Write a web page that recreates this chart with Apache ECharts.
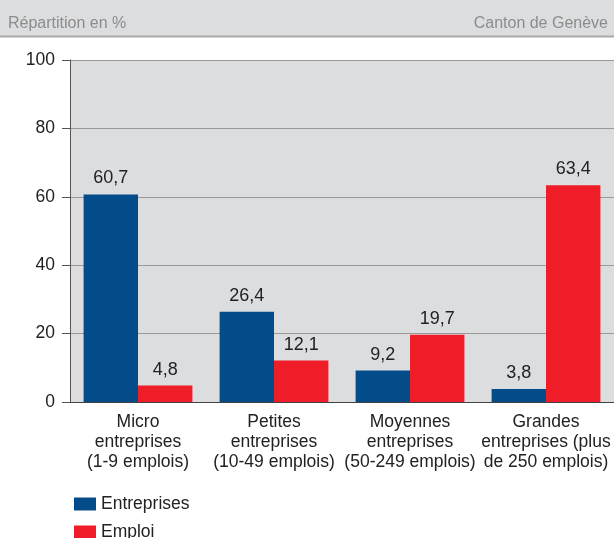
<!DOCTYPE html>
<html>
<head>
<meta charset="utf-8">
<script src="https://cdn.jsdelivr.net/npm/echarts@6/dist/echarts.min.js"></script>
<style>
  html, body { margin: 0; padding: 0; background: #fff; }
  #chart { width: 614px; height: 538px; }
</style>
</head>
<body>
<div id="chart"></div>
<script>
// catégories et valeurs (en %)
const categories = [
  'Micro\nentreprises\n(1-9 emplois)',
  'Petites\nentreprises\n(10-49 emplois)',
  'Moyennes\nentreprises\n(50-249 emplois)',
  'Grandes\nentreprises (plus\nde 250 emplois)'
];
const entreprises = [60.7, 26.4, 9.2, 3.8];
const emploi = [4.8, 12.1, 19.7, 63.4];
const seriesNames = ['Entreprises', 'Emploi'];

const font = 'Liberation Sans, Arial, sans-serif';
const fmt = p => String(p.value).replace('.', ',');

const chart = echarts.init(document.getElementById('chart'));

// une légende par série, empilées verticalement
const legendItem = (name, top) => ({
  left: 69, top: top,
  itemWidth: 22, itemHeight: 13, itemGap: 0,
  icon: 'rect',
  data: [name],
  textStyle: { fontSize: 17.5, color: '#222', fontFamily: font }
});

chart.setOption({
  animation: false,
  textStyle: { fontFamily: font },
  graphic: [
    { type: 'rect', shape: { x: 0, y: 0, width: 614, height: 36 }, style: { fill: '#dcdddf' }, z: -1 },
    { type: 'line', shape: { x1: 0, y1: 36.5, x2: 614, y2: 36.5 }, style: { stroke: '#a9a9a9', lineWidth: 2 } },
    { type: 'text', left: 8, top: 16, style: { text: 'Répartition en %', fill: '#8c8c8c', font: '16px ' + font } },
    { type: 'text', right: 6, top: 16, style: { text: 'Canton de Genève', fill: '#8c8c8c', font: '16px ' + font } }
  ],
  grid: {
    left: 70, right: 0, top: 60, bottom: 136,
    show: true, backgroundColor: '#dcdddf', borderWidth: 0
  },
  legend: [legendItem(seriesNames[0], 490), legendItem(seriesNames[1], 518)],
  xAxis: {
    type: 'category',
    data: categories,
    axisLine: { lineStyle: { color: '#444' } },
    axisTick: { length: 8, lineStyle: { color: '#444' } },
    axisLabel: { color: '#222', fontSize: 17.5, lineHeight: 20, margin: 10, interval: 0 }
  },
  yAxis: {
    type: 'value',
    min: 0, max: 100, interval: 20,
    axisLine: { show: true, lineStyle: { color: '#555' } },
    axisTick: { show: true, length: 8, lineStyle: { color: '#555' } },
    axisLabel: { color: '#222', fontSize: 17.5, margin: 15 },
    splitLine: { lineStyle: { color: '#9a9a9a' } }
  },
  series: [
    {
      name: seriesNames[0], type: 'bar', data: entreprises,
      barGap: '0%', barCategoryGap: '20%',
      itemStyle: { color: '#034b89' },
      label: { show: true, position: 'top', distance: 7, color: '#222', fontSize: 18, formatter: fmt }
    },
    {
      name: seriesNames[1], type: 'bar', data: emploi,
      itemStyle: { color: '#ee1d27' },
      label: { show: true, position: 'top', distance: 7, color: '#222', fontSize: 18, formatter: fmt }
    }
  ]
});
</script>
</body>
</html>
